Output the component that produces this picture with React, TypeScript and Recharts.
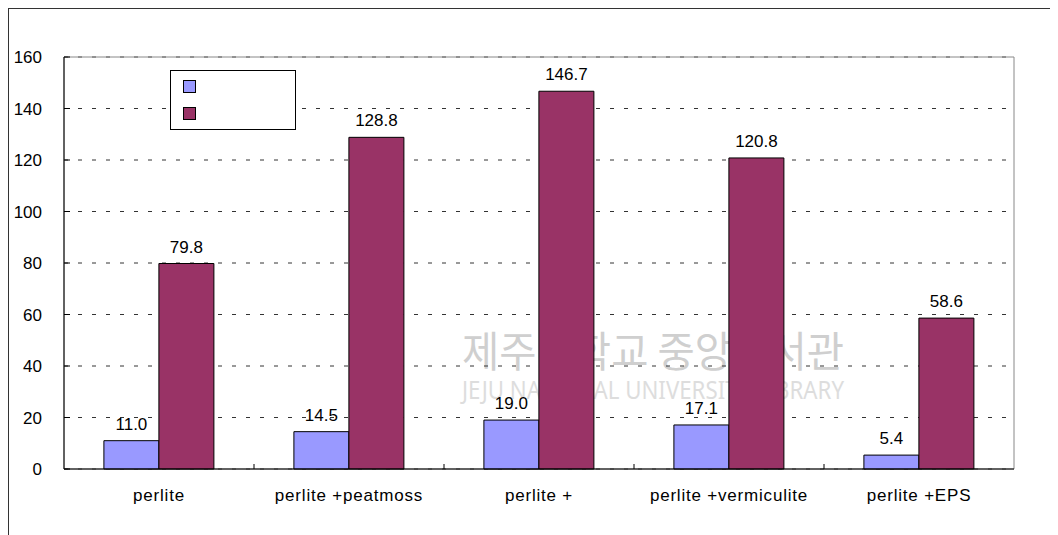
import React from "react";
import {
  BarChart,
  Bar,
  XAxis,
  YAxis,
  CartesianGrid,
  LabelList,
  ReferenceArea,
} from "recharts";

const categories = [
  "perlite",
  "perlite +peatmoss",
  "perlite +",
  "perlite +vermiculite",
  "perlite +EPS",
];
const series1 = [11.0, 14.5, 19.0, 17.1, 5.4];
const series2 = [79.8, 128.8, 146.7, 120.8, 58.6];
const yTicks = [0, 20, 40, 60, 80, 100, 120, 140, 160];
const seriesColors = ["#9999FF", "#993366"];

const data = categories.map((name, i) => ({ name, s1: series1[i], s2: series2[i] }));

const CHART_W = 1041;
const CHART_H = 526;
const MARGIN = { top: 48, right: 36, bottom: 36, left: 0 };
const YAXIS_W = 55;
const PLOT_W = CHART_W - MARGIN.left - MARGIN.right - YAXIS_W;
const BAND = PLOT_W / categories.length;
const FONT = "'Liberation Sans', Arial, sans-serif";

const XTick = (props: any) => {
  const { x, y, payload, index } = props;
  return (
    <g>
      {index < categories.length - 1 && (
        <line x1={x + BAND / 2} y1={y} x2={x + BAND / 2} y2={y - 5} stroke="#000" strokeWidth={1} />
      )}
      <text
        x={x}
        y={y + 32}
        textAnchor="middle"
        fontFamily={FONT}
        fontSize={17}
        letterSpacing={0.8}
        fill="#000"
      >
        {payload.value}
      </text>
    </g>
  );
};

const YTick = (props: any) => {
  const { x, y, payload } = props;
  return (
    <g>
      <line x1={x} y1={y} x2={x + 6} y2={y} stroke="#000" strokeWidth={1} />
      <text
        x={x - 22}
        y={y}
        dy="0.355em"
        textAnchor="end"
        fontFamily={FONT}
        fontSize={17}
        fill="#000"
      >
        {payload.value}
      </text>
    </g>
  );
};

export default function App() {
  return (
    <div
      style={{
        position: "relative",
        width: 1041,
        height: 526,
        borderTop: "1px solid #333",
        borderLeft: "1px solid #333",
      }}
    >
      <svg
        width={CHART_W}
        height={CHART_H}
        style={{ position: "absolute", left: 0, top: 0 }}
      >
        <text
          x={453}
          y={358}
          fontFamily="'Noto Sans CJK KR', sans-serif"
          fontSize={42}
          fill="#cfcfcf"
          textLength={382}
          lengthAdjust="spacingAndGlyphs"
        >
          제주대학교 중앙도서관
        </text>
        <text
          x={453}
          y={390}
          fontFamily="'Noto Sans', sans-serif"
          fontSize={26}
          fill="#dddddd"
          textLength={382}
          lengthAdjust="spacingAndGlyphs"
        >
          JEJU NATIONAL UNIVERSITY LIBRARY
        </text>
      </svg>
      <div style={{ position: "absolute", left: 0, top: 0 }}>
        <BarChart
          width={CHART_W}
          height={CHART_H}
          data={data}
          margin={MARGIN}
          barCategoryGap="21%"
          barGap={0}
        >
          <CartesianGrid
            vertical={false}
            stroke="#333"
            strokeDasharray="4 10"
          />
          <ReferenceArea y1={0} y2={160} fill="none" stroke="#888" strokeWidth={1} ifOverflow="visible" />
          <XAxis
            dataKey="name"
            tickLine={false}
            tickSize={0}
            tickMargin={0}
            axisLine={{ stroke: "#000" }}
            tick={<XTick />}
            interval={0}
          />
          <YAxis
            domain={[0, 160]}
            ticks={yTicks}
            width={YAXIS_W}
            tickLine={false}
            tickSize={0}
            tickMargin={0}
            axisLine={{ stroke: "#000" }}
            tick={<YTick />}
            interval={0}
          />
          <Bar dataKey="s1" fill={seriesColors[0]} stroke="#000" strokeWidth={1} isAnimationActive={false}>
            <LabelList
              dataKey="s1"
              position="top"
              offset={11}
              formatter={(v: any) => Number(v).toFixed(1)}
              style={{ fontFamily: FONT, fontSize: 17, fill: "#000" }}
            />
          </Bar>
          <Bar dataKey="s2" fill={seriesColors[1]} stroke="#000" strokeWidth={1} isAnimationActive={false}>
            <LabelList
              dataKey="s2"
              position="top"
              offset={11}
              formatter={(v: any) => Number(v).toFixed(1)}
              style={{ fontFamily: FONT, fontSize: 17, fill: "#000" }}
            />
          </Bar>
        </BarChart>
      </div>
      <div
        style={{
          position: "absolute",
          left: 161,
          top: 61,
          width: 124,
          height: 58,
          border: "1px solid #000",
          background: "#fff",
        }}
      >
        {seriesColors.map((c, i) => (
          <div
            key={i}
            style={{
              position: "absolute",
              left: 12,
              top: 9 + i * 27,
              width: 11,
              height: 11,
              background: c,
              border: "1px solid #000",
            }}
          />
        ))}
      </div>
    </div>
  );
}
